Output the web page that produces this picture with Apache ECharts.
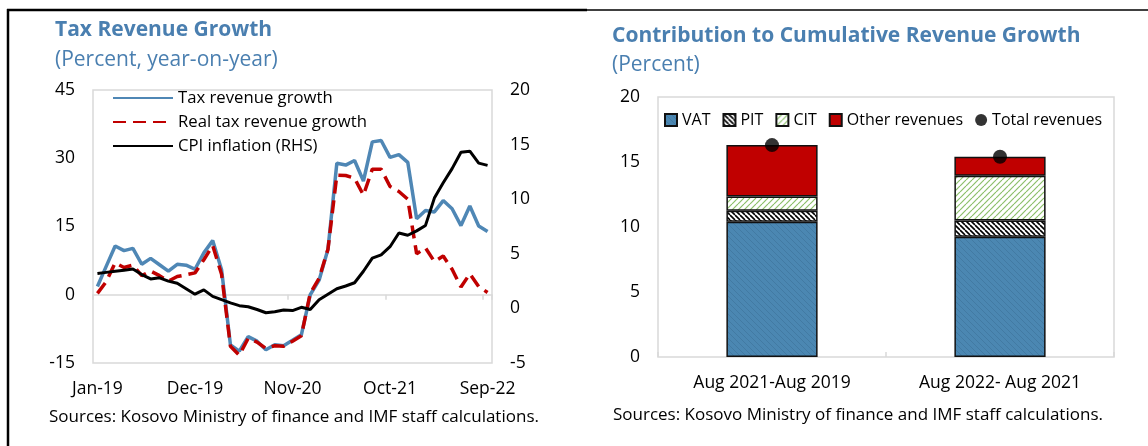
<!DOCTYPE html>
<html>
<head>
<meta charset="utf-8">
<title>Tax revenue</title>
<script src="https://cdn.jsdelivr.net/npm/echarts@6/dist/echarts.min.js"></script>
<style>
  html, body { margin: 0; padding: 0; background: #fff; }
  #chart { width: 1148px; height: 446px; }
</style>
</head>
<body>
<div id="chart"></div>
<script>
// left panel: monthly, Jan-19 .. Sep-22
var months = [
  'Jan-19', 'Feb-19', 'Mar-19', 'Apr-19', 'May-19', 'Jun-19', 'Jul-19', 'Aug-19', 'Sep-19', 'Oct-19', 'Nov-19', 'Dec-19',
  'Jan-20', 'Feb-20', 'Mar-20', 'Apr-20', 'May-20', 'Jun-20', 'Jul-20', 'Aug-20', 'Sep-20', 'Oct-20', 'Nov-20', 'Dec-20',
  'Jan-21', 'Feb-21', 'Mar-21', 'Apr-21', 'May-21', 'Jun-21', 'Jul-21', 'Aug-21', 'Sep-21', 'Oct-21', 'Nov-21', 'Dec-21',
  'Jan-22', 'Feb-22', 'Mar-22', 'Apr-22', 'May-22', 'Jun-22', 'Jul-22', 'Aug-22', 'Sep-22'
];
var taxGrowth = [1.8, 6.3, 10.7, 9.7, 10.2, 6.7, 8.0, 6.6, 5.2, 6.7, 6.5, 5.6, 9.2, 11.9, 5.5,
  -11.0, -12.4, -9.2, -10.2, -12.1, -11.0, -11.2, -10.0, -8.8, 0.0, 3.2, 10.0, 28.9, 28.5, 29.5,
  25.0, 33.6, 33.9, 30.2, 30.8, 29.1, 16.7, 18.5, 18.2, 20.7, 18.9, 15.2, 19.5, 15.1, 13.9];
var realGrowth = [0.3, 2.9, 7.0, 6.0, 6.5, 4.2, 5.2, 4.2, 3.0, 4.0, 4.4, 4.8, 7.7, 10.8, 4.5,
  -11.3, -13.3, -9.6, -10.4, -11.8, -11.2, -11.3, -10.2, -9.0, 0.3, 3.6, 10.0, 26.3, 26.2, 25.6,
  21.9, 27.6, 27.6, 23.8, 22.7, 21.0, 9.0, 10.3, 7.3, 8.5, 5.6, 1.7, 4.6, 1.8, 0.5];
var cpi = [3.2, 3.3, 3.4, 3.5, 3.6, 3.1, 2.7, 2.8, 2.5, 2.3, 1.8, 1.3, 1.7, 1.1, 0.8,
  0.5, 0.25, 0.15, -0.1, -0.4, -0.3, -0.15, -0.2, 0.1, -0.1, 0.8, 1.3, 1.8, 2.05, 2.35,
  3.4, 4.6, 4.9, 5.65, 6.9, 6.7, 7.1, 7.6, 10.1, 11.5, 12.8, 14.3, 14.4, 13.3, 13.1];
var leftTicks = [-15, 45, 15];   // min, max, step
var rightTicks = [-5, 20, 5];

// right panel: contributions
var periods = ['Aug 2021-Aug 2019', 'Aug 2022- Aug 2021'];
var vat = [10.4, 9.25];
var pit = [0.85, 1.25];
var cit = [1.1, 3.45];
var other = [3.95, 1.45];
var total = [16.3, 15.4];
var barTicks = [0, 20, 5];

var FONT = 'Open Sans';
var BLUE_T = '#4a7fb0';
var GRIDC = '#d9d9d9';
var AX = 17.5;

function hatch(bg, fg, size, lw, back) {
  var c = document.createElement('canvas');
  c.width = size; c.height = size;
  var g = c.getContext('2d');
  g.fillStyle = bg; g.fillRect(0, 0, size, size);
  g.strokeStyle = fg; g.lineWidth = lw;
  for (var o = -size; o <= size; o += size) {
    g.beginPath();
    if (back) { g.moveTo(o, 0); g.lineTo(o + size, size); }
    else { g.moveTo(o, size); g.lineTo(o + size, 0); }
    g.stroke();
  }
  return { image: c, repeat: 'repeat' };
}

var chart = echarts.init(document.getElementById('chart'));

var txt = function (size, color, weight) {
  return { fontFamily: FONT, fontSize: size, color: color, fontWeight: weight || 'normal' };
};

var option = {
  animation: false,
  backgroundColor: '#fff',
  textStyle: { fontFamily: FONT },
  title: [
    { text: 'Tax Revenue Growth', left: 55, top: 20, padding: 0, textStyle: txt(21, BLUE_T, 'bold') },
    { text: '(Percent, year-on-year)', left: 55, top: 50, padding: 0, textStyle: txt(21, BLUE_T) },
    { text: 'Contribution to Cumulative Revenue Growth', left: 612, top: 26, padding: 0, textStyle: txt(21, BLUE_T, 'bold') },
    { text: '(Percent)', left: 612, top: 55, padding: 0, textStyle: txt(21, BLUE_T) },
    { text: 'Sources: Kosovo Ministry of finance and IMF staff calculations.', left: 49, top: 409, padding: 0, textStyle: txt(17, '#000') },
    { text: 'Sources: Kosovo Ministry of finance and IMF staff calculations.', left: 613, top: 407, padding: 0, textStyle: txt(17, '#000') }
  ],
  legend: [
    {
      data: ['Tax revenue growth', 'Real tax revenue growth', 'CPI inflation (RHS)'],
      orient: 'vertical', left: 112, top: 89.5, padding: 0,
      itemWidth: 60, itemHeight: 14, itemGap: 7,
      itemStyle: { opacity: 0 },
      textStyle: txt(16.7, '#000')
    },
    {
      data: [
        { name: 'VAT', icon: 'rect' }, { name: 'PIT', icon: 'rect' }, { name: 'CIT', icon: 'rect' },
        { name: 'Other revenues', icon: 'rect' }, { name: 'Total revenues', icon: 'circle' }
      ],
      left: 664, top: 112, padding: 0,
      itemWidth: 12, itemHeight: 12, itemGap: 12,
      textStyle: txt(16, '#000')
    }
  ],
  grid: [
    { left: 93, top: 90, width: 399, height: 273, show: true, borderColor: GRIDC, borderWidth: 1.5 },
    { left: 658, top: 97, width: 456, height: 260, show: true, borderColor: GRIDC, borderWidth: 1.5 }
  ],
  xAxis: [
    {
      gridIndex: 0, type: 'category', data: months, position: 'bottom',
      axisLine: { show: false, onZero: false }, axisTick: { show: false },
      axisLabel: { interval: 10, margin: 17, fontSize: AX, color: '#000', fontFamily: FONT }
    },
    {
      gridIndex: 0, type: 'category', data: months, position: 'bottom',
      axisLine: { show: true, onZero: true, onZeroAxisIndex: 0, lineStyle: { color: GRIDC, width: 1.5 } },
      axisTick: { show: true, interval: 10, length: 5, lineStyle: { color: GRIDC, width: 1.5 } },
      axisLabel: { show: false }
    },
    {
      gridIndex: 1, type: 'category', data: periods,
      axisLine: { show: false },
      axisTick: { show: true, inside: true, length: 5, lineStyle: { color: GRIDC, width: 1.5 } },
      axisLabel: { margin: 17, fontSize: AX, color: '#000', fontFamily: FONT }
    }
  ],
  yAxis: [
    {
      gridIndex: 0, type: 'value', position: 'left',
      min: leftTicks[0], max: leftTicks[1], interval: leftTicks[2],
      axisLine: { show: false }, axisTick: { show: false }, splitLine: { show: false },
      axisLabel: { margin: 18, fontSize: AX, color: '#000', fontFamily: FONT }
    },
    {
      gridIndex: 0, type: 'value', position: 'right',
      min: rightTicks[0], max: rightTicks[1], interval: rightTicks[2],
      axisLine: { show: false }, axisTick: { show: false }, splitLine: { show: false },
      axisLabel: { margin: 18, fontSize: AX, color: '#000', fontFamily: FONT }
    },
    {
      gridIndex: 1, type: 'value',
      min: barTicks[0], max: barTicks[1], interval: barTicks[2],
      axisLine: { show: false }, axisTick: { show: false }, splitLine: { show: false },
      axisLabel: { margin: 18, fontSize: AX, color: '#000', fontFamily: FONT }
    }
  ],
  series: [
    {
      name: 'Tax revenue growth', type: 'line', xAxisIndex: 0, yAxisIndex: 0,
      data: taxGrowth, symbol: 'none', color: '#4f87b5',
      lineStyle: { color: '#4f87b5', width: 3.5 }
    },
    {
      name: 'Real tax revenue growth', type: 'line', xAxisIndex: 0, yAxisIndex: 0,
      data: realGrowth, symbol: 'none', color: '#c00000',
      lineStyle: { color: '#c00000', width: 3.5, type: [13, 7] }
    },
    {
      name: 'CPI inflation (RHS)', type: 'line', xAxisIndex: 0, yAxisIndex: 1,
      data: cpi, symbol: 'none', color: '#000',
      lineStyle: { color: '#000', width: 3 }
    },
    {
      name: 'VAT', type: 'bar', stack: 'rev', xAxisIndex: 2, yAxisIndex: 2, barWidth: '40%',
      data: vat, itemStyle: { color: hatch('#4b87b2', '#427aa3', 6, 1, true), borderColor: '#111', borderWidth: 1.5 }
    },
    {
      name: 'PIT', type: 'bar', stack: 'rev', xAxisIndex: 2, yAxisIndex: 2,
      data: pit, itemStyle: { color: hatch('#fff', '#000', 5, 1.6, true), borderColor: '#111', borderWidth: 1.5 }
    },
    {
      name: 'CIT', type: 'bar', stack: 'rev', xAxisIndex: 2, yAxisIndex: 2,
      data: cit, itemStyle: { color: hatch('#fff', '#8cbf6a', 6, 1.2, false), borderColor: '#111', borderWidth: 1.5 }
    },
    {
      name: 'Other revenues', type: 'bar', stack: 'rev', xAxisIndex: 2, yAxisIndex: 2,
      data: other, itemStyle: { color: '#c00000', borderColor: '#111', borderWidth: 1.5 }
    },
    {
      name: 'Total revenues', type: 'scatter', xAxisIndex: 2, yAxisIndex: 2,
      data: total, symbolSize: 14, z: 10, itemStyle: { color: '#000' }
    }
  ],
  graphic: [
    { type: 'line', shape: { x1: 7, y1: 10, x2: 587, y2: 10 }, style: { stroke: '#000', lineWidth: 2.5 } },
    { type: 'line', shape: { x1: 587, y1: 10, x2: 1148, y2: 10 }, style: { stroke: '#000', lineWidth: 1.5 } },
    { type: 'line', shape: { x1: 8, y1: 9, x2: 8, y2: 446 }, style: { stroke: '#000', lineWidth: 2.5 } }
  ]
};

chart.setOption(option);
</script>
</body>
</html>
